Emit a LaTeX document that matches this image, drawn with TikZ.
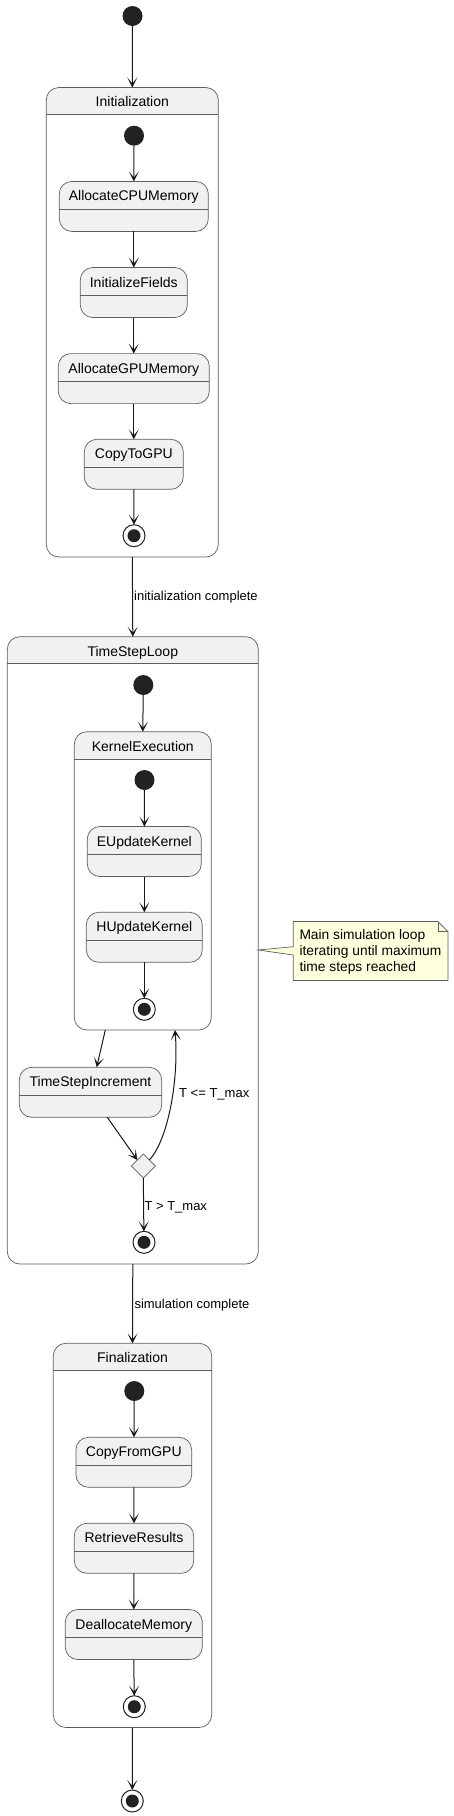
\documentclass[tikz,border=0pt]{standalone}
\usepackage{fontspec}
\setmainfont{Liberation Sans}
\usetikzlibrary{arrows.meta,shapes.geometric}
\definecolor{cFill}{HTML}{F1F1F1}
\definecolor{cLine}{HTML}{181818}
\definecolor{cBord}{HTML}{5E5E5E}
\definecolor{cNote}{HTML}{FEFFDD}
\definecolor{cDark}{HTML}{222222}
\tikzset{
  statebox/.style={rectangle, rounded corners=12.5pt, fill=cFill, draw=cBord, line width=0.7pt, inner sep=0pt, outer sep=0pt},
  compbox/.style={rectangle, fill=white, inner sep=0pt, outer sep=0pt},
  bord/.style={draw=cBord, line width=0.7pt},
  stitle/.style={anchor=base, inner sep=0pt, font=\fontsize{14}{16}\selectfont},
  lbl/.style={anchor=base west, inner sep=0pt, font=\fontsize{13}{15}\selectfont},
  arr/.style={draw=cLine, line width=1pt, -{Stealth[length=10pt,width=10pt,inset=6pt]}},
  initc/.style={circle, fill=cDark, minimum size=20pt, inner sep=0pt, outer sep=0pt},
  finc/.style={circle, draw=cDark, line width=1pt, fill=white, minimum size=22pt, inner sep=0pt, outer sep=0pt,
    path picture={\fill[cDark] (path picture bounding box.center) circle (6.5pt);}},
  dia/.style={diamond, fill=cFill, draw=cBord, line width=0.7pt, minimum width=24pt, minimum height=24pt, inner sep=0pt, outer sep=0pt},
  notetext/.style={anchor=base west, inner sep=0pt, align=left, font=\fontsize{13.8}{16.4}\selectfont},
}
% simple state: name, cx, top, width, text
\newcommand\mkstate[5]{%
  \node[statebox, minimum width=#4pt, minimum height=50pt, anchor=north] (#1) at (#2,#3) {};
  \draw[bord] ([yshift=-28pt]#1.north west) -- ([yshift=-28pt]#1.north east);
  \node[stitle] (#1-t) at ([yshift=-19.5pt]#1.north) {#5};
}
% composite state: name, cx, top, width, height, header, text
\newcommand\mkcomp[7]{%
  \node[compbox, minimum width=#4pt, minimum height=#5pt, anchor=north] (#1) at (#2,#3) {};
  \begin{scope}
    \clip (#1.north west) rectangle ([yshift=-#6pt]#1.north east);
    \fill[cFill, rounded corners=12.5pt] (#1.north west) rectangle (#1.south east);
  \end{scope}
  \draw[bord, rounded corners=12.5pt] (#1.north west) rectangle (#1.south east);
  \draw[bord] ([yshift=-#6pt]#1.north west) -- ([yshift=-#6pt]#1.north east);
  \node[stitle] (#1-t) at ([yshift=-19.3pt]#1.north) {#7};
}
\begin{document}
\begin{tikzpicture}[x=1pt,y=-1pt]
\useasboundingbox (0,0) rectangle (453,1816);

% ---------- Initialization ----------
\node[initc] (i0) at (132.5,16) {};
\mkcomp{init}{132.3}{87.5}{172}{469.5}{26.8}{Initialization}
\node[initc] (i1) at (134,135.7) {};
\mkstate{acpu}{133.8}{181.4}{149}{AllocateCPUMemory}
\mkstate{ifld}{133.8}{267.5}{107}{InitializeFields}
\mkstate{agpu}{133.8}{353.6}{151}{AllocateGPUMemory}
\mkstate{ctg}{133.8}{439.3}{99}{CopyToGPU}
\node[finc] (f1) at (134,535.7) {};

\draw[arr] (i0) -- (init.north);
\draw[arr] (i1) -- (acpu);
\draw[arr] (acpu.south) -- (ifld.north);
\draw[arr] (ifld.south) -- (agpu.north);
\draw[arr] (agpu.south) -- (ctg.north);
\draw[arr] (ctg.south) -- (f1);

% ---------- TimeStepLoop ----------
\mkcomp{tsl}{132.8}{636.7}{251}{627.3}{26.6}{TimeStepLoop}
\draw[arr] (init.south) -- (tsl.north);
\node[lbl] (l1) at (134,600.5) {initialization complete};

\node[initc] (i2) at (143.3,685) {};
\mkcomp{ke}{142.8}{731.7}{137}{298.3}{27.6}{KernelExecution}
\draw[arr] (i2) -- (ke.north);
\node[initc] (i3) at (144.5,780) {};
\mkstate{euk}{144.3}{826.5}{114}{EUpdateKernel}
\mkstate{huk}{144.3}{912.3}{116}{HUpdateKernel}
\node[finc] (f2) at (144.3,1009.3) {};
\draw[arr] (i3) -- (euk);
\draw[arr] (euk.south) -- (huk.north);
\draw[arr] (huk.south) -- (f2);

\mkstate{tsi}{90.5}{1067.3}{142.4}{TimeStepIncrement}
\node[dia] (dec) at (143.3,1166) {};
\node[finc] (f3) at (144,1242.3) {};
\draw[arr] ([xshift=-37.5pt]ke.south) -- ([xshift=6.2pt]tsi.north);
\draw[arr] ([xshift=16.8pt]tsi.south) -- (dec.north west);
\draw[arr] (dec.north east) .. controls (168,1140) and (179,1080) .. ([xshift=32.2pt]ke.south);
\node[lbl] (l2) at (179,1097) {T <= T\_max};
\draw[arr] (dec.south) -- (f3);
\node[lbl] (l3) at (144.3,1210.8) {T > T\_max};

% note
\draw[bord, fill=cNote] (293.3,921.5) -- (438,921.5) -- (448,931.5) -- (448,980.5) -- (293.3,980.5)
  -- (293.3,955) -- (tsl.east |- 0,950) -- (293.3,946.7) -- cycle;
\draw[bord] (438,921.5) -- (438,931.5) -- (448,931.5);
\node[notetext] (note) at (299.3,971.8) {Main simulation loop\\iterating until maximum\\time steps reached};

% ---------- Finalization ----------
\mkcomp{fin}{132.5}{1343.3}{158.4}{384.2}{27.4}{Finalization}
\draw[arr] (tsl.south) -- (fin.north);
\node[lbl] (l4) at (134.3,1308) {simulation complete};
\node[initc] (i4) at (134.3,1391) {};
\mkstate{cfg}{133.8}{1437.3}{115.7}{CopyFromGPU}
\mkstate{rr}{134}{1523.3}{119.4}{RetrieveResults}
\mkstate{dm}{133.8}{1609.5}{137}{DeallocateMemory}
\node[finc] (f4) at (134.3,1706.7) {};
\draw[arr] (i4) -- (cfg);
\draw[arr] (cfg.south) -- (rr.north);
\draw[arr] (rr.south) -- (dm.north);
\draw[arr] (dm.south) -- (f4);

\node[finc] (f5) at (132.3,1801) {};
\draw[arr] (fin.south) -- (f5);
\end{tikzpicture}
\end{document}
